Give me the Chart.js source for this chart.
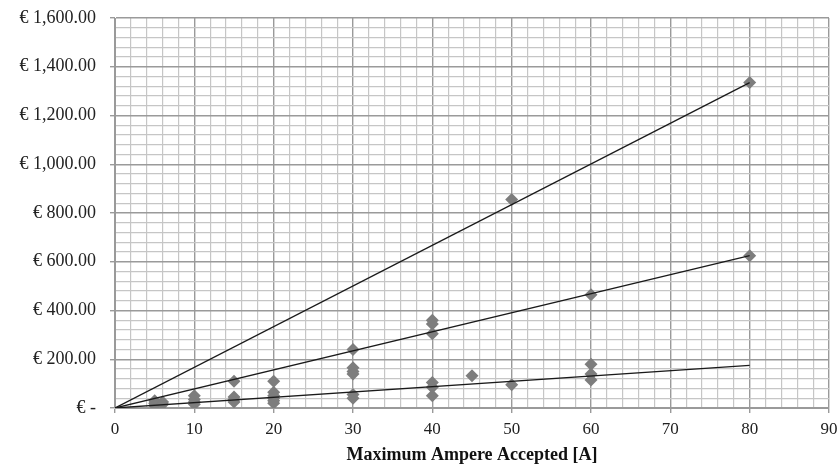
<!DOCTYPE html>
<html>
<head>
<meta charset="utf-8">
<script src="https://cdn.jsdelivr.net/npm/chart.js@4"></script>
<style>
  html, body { margin: 0; padding: 0; background: #fff; }
  #wrap { width: 838px; height: 468px; }
</style>
</head>
<body>
<div id="wrap"><canvas id="priceChart"></canvas></div>
<script>
// measured prices per connection rating
var amps   = [80,   50,  80,  60,  40,  40,  40,  30,  30,  30,  30, 30, 30, 40,  40, 40, 45,  50, 60,  60,  60,  20,  20, 20, 20, 20, 20, 15,  15, 15, 15, 10, 10, 10, 10, 5,  5,  5,  6,  6];
var prices = [1335, 855, 625, 465, 360, 345, 305, 240, 165, 150, 140, 55, 40, 105, 85, 50, 132, 95, 180, 140, 115, 110, 65, 50, 40, 30, 20, 110, 45, 35, 25, 50, 35, 25, 15, 30, 20, 10, 25, 15];

// trend lines, all starting at the origin
var trendX = [0, 80];
var trendHigh = [0, 1335];
var trendMid = [0, 625];
var trendLow = [0, 175];

function pairs(xs, ys) {
  return xs.map(function (x, i) { return { x: x, y: ys[i] }; });
}

function trend(ys) {
  return {
    type: 'line',
    data: pairs(trendX, ys),
    borderColor: '#1a1a1a',
    borderWidth: 1.3,
    pointRadius: 0,
    showLine: true,
    fill: false
  };
}

function euro(v) {
  if (v === 0) return '€ -';
  return '€ ' + v.toLocaleString('en-US', { minimumFractionDigits: 2, maximumFractionDigits: 2 });
}

var serif = "'Liberation Serif', 'Times New Roman', serif";

new Chart(document.getElementById('priceChart'), {
  type: 'scatter',
  data: {
    datasets: [
      trend(trendHigh),
      trend(trendMid),
      trend(trendLow),
      {
        data: pairs(amps, prices),
        pointStyle: 'rectRot',
        pointRadius: 6.5,
        backgroundColor: '#7d7d7d',
        borderColor: '#7d7d7d',
        borderWidth: 0
      }
    ]
  },
  options: {
    responsive: true,
    maintainAspectRatio: false,
    animation: false,
    layout: { padding: { top: 18, right: 9, left: 0, bottom: 2 } },
    plugins: { legend: { display: false }, tooltip: { enabled: false } },
    scales: {
      x: {
        type: 'linear',
        min: 0,
        max: 90,
        afterFit: function (scale) {
          scale.height = 58;
          scale.paddingLeft = 0;
          scale.paddingRight = 0;
        },
        ticks: {
          stepSize: 2,
          autoSkip: false,
          maxRotation: 0,
          padding: 6,
          color: '#222',
          font: { family: serif, size: 17 },
          callback: function (v) { return v % 10 === 0 ? String(v) : ''; }
        },
        grid: {
          color: function (c) { return c.tick && c.tick.value % 10 === 0 ? '#9a9a9a' : '#c6c6c6'; },
          lineWidth: function (c) { return c.tick && c.tick.value % 10 === 0 ? 1.4 : 1.2; },
          tickColor: function (c) { return c.tick && c.tick.value % 10 === 0 ? '#9a9a9a' : 'rgba(0,0,0,0)'; },
          tickLength: 5
        },
        border: { color: '#9a9a9a' },
        title: {
          display: true,
          text: 'Maximum Ampere Accepted [A]',
          color: '#111',
          font: { family: serif, size: 18, weight: 'bold' },
          padding: { top: 0, bottom: 0 }
        }
      },
      y: {
        min: 0,
        max: 1600,
        afterFit: function (scale) {
          scale.width = 115;
          scale.paddingTop = 0;
          scale.paddingBottom = 0;
        },
        ticks: {
          stepSize: 40,
          autoSkip: false,
          padding: 14,
          color: '#222',
          font: { family: serif, size: 18 },
          callback: function (v) { return v % 200 === 0 ? euro(v) : ''; }
        },
        grid: {
          color: function (c) { return c.tick && c.tick.value % 200 === 0 ? '#9a9a9a' : '#c6c6c6'; },
          lineWidth: function (c) { return c.tick && c.tick.value % 200 === 0 ? 1.4 : 1.2; },
          tickColor: function (c) { return c.tick && c.tick.value % 200 === 0 ? '#9a9a9a' : 'rgba(0,0,0,0)'; },
          tickLength: 5
        },
        border: { color: '#9a9a9a' }
      }
    }
  }
});
</script>
</body>
</html>
